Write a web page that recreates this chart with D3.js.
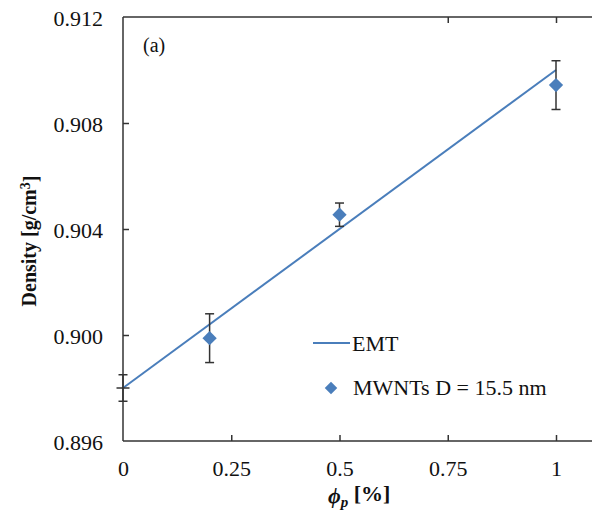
<!DOCTYPE html>
<html><head><meta charset="utf-8">
<script src="https://cdn.jsdelivr.net/npm/d3@7"></script>
<style>body{margin:0;background:#fff}svg{display:block}text{font-family:"Liberation Serif","Times New Roman",serif}</style>
</head><body>
<script>
const xTicks = [0, 0.25, 0.5, 0.75, 1];
const xTickLabels = ["0", "0.25", "0.5", "0.75", "1"];
const yTicks = [0.896, 0.900, 0.904, 0.908, 0.912];
const yTickLabels = ["0.896", "0.900", "0.904", "0.908", "0.912"];
const topTicks = [0.75, 1];
const emtX = [0, 1];
const emtY = [0.898, 0.910];
const ptX = [0.2, 0.5, 1.0];
const ptY = [0.89988, 0.90454, 0.90943];
const ptErr = [0.00092, 0.00044, 0.00092];
const refX = [0];
const refY = [0.898];
const refErr = [0.0005];

const W = 592, H = 518;
const svg = d3.select("body").append("svg").attr("width", W).attr("height", H);
const x = d3.scaleLinear().domain([0, 1]).range([123, 556]);
const y = d3.scaleLinear().domain([0.896, 0.912]).range([441, 17]);
const axisColor = "#333";
const blue = "#4a7ebb";

// axis frame lines
svg.append("line").attr("x1", x(0)).attr("x2", W).attr("y1", y(0.896)).attr("y2", y(0.896))
  .attr("stroke", axisColor).attr("stroke-width", 1.5);
svg.append("line").attr("x1", x(0)).attr("x2", W).attr("y1", y(0.912)).attr("y2", y(0.912))
  .attr("stroke", axisColor).attr("stroke-width", 1.5);
svg.append("line").attr("x1", x(0)).attr("x2", x(0)).attr("y1", y(0.896)).attr("y2", y(0.912))
  .attr("stroke", axisColor).attr("stroke-width", 1.5);

// x axis
const gx = svg.append("g").attr("transform", `translate(0,${y(0.896)})`)
  .call(d3.axisBottom(x).tickValues(xTicks).tickFormat((d, i) => xTickLabels[i]).tickSizeInner(-6).tickSizeOuter(0));
gx.select(".domain").remove();
gx.selectAll(".tick line").attr("stroke", axisColor).attr("stroke-width", 1.5);
gx.selectAll(".tick").filter(d => d === 0).select("line").remove();
gx.selectAll(".tick text").attr("y", 35).attr("dy", 0).attr("fill", "#111")
  .style("font-size", "22px").style("font-family", "Liberation Serif, serif");

// top ticks
const gt = svg.append("g").attr("transform", `translate(0,${y(0.912)})`)
  .call(d3.axisTop(x).tickValues(topTicks).tickFormat("").tickSizeInner(-6).tickSizeOuter(0));
gt.select(".domain").remove();
gt.selectAll(".tick line").attr("stroke", axisColor).attr("stroke-width", 1.5);

// y axis
const gy = svg.append("g").attr("transform", `translate(${x(0)},0)`)
  .call(d3.axisLeft(y).tickValues(yTicks).tickFormat((d, i) => yTickLabels[i]).tickSizeInner(-6).tickSizeOuter(0));
gy.select(".domain").remove();
gy.selectAll(".tick line").attr("stroke", axisColor).attr("stroke-width", 1.5);
gy.selectAll(".tick").filter(d => d === 0.896 || d === 0.912).select("line").remove();
gy.selectAll(".tick text").attr("x", -20).attr("dy", "0.38em").attr("fill", "#111")
  .style("font-size", "22px").style("font-family", "Liberation Serif, serif");

// EMT line
const line = d3.line().x(d => x(d[0])).y(d => y(d[1]));
svg.append("path").datum(emtX.map((v, i) => [v, emtY[i]])).attr("d", line)
  .attr("fill", "none").attr("stroke", blue).attr("stroke-width", 2);

// error bars
function errBar(xs, ys, es, cap) {
  xs.forEach((xv, i) => {
    const g = svg.append("g").attr("stroke", axisColor).attr("stroke-width", 1.5);
    const cx = x(xv), t = y(ys[i] + es[i]), b = y(ys[i] - es[i]);
    g.append("line").attr("x1", cx).attr("x2", cx).attr("y1", t).attr("y2", b);
    g.append("line").attr("x1", cx - cap).attr("x2", cx + cap).attr("y1", t).attr("y2", t);
    g.append("line").attr("x1", cx - cap).attr("x2", cx + cap).attr("y1", b).attr("y2", b);
  });
}
errBar(ptX, ptY, ptErr, 4.5);
errBar(refX, refY, refErr, 4.5);
// dash marker at reference point
refX.forEach((xv, i) => {
  svg.append("line").attr("x1", x(xv) - 6.5).attr("x2", x(xv) + 6.5).attr("y1", y(refY[i])).attr("y2", y(refY[i]))
    .attr("stroke", axisColor).attr("stroke-width", 1.5);
});

// diamonds
const diamond = d3.symbol().type(d3.symbolDiamond2).size(130);
svg.selectAll(".pt").data(ptX.map((v, i) => [v, ptY[i]])).join("path")
  .attr("transform", d => `translate(${x(d[0])},${y(d[1])})`)
  .attr("d", diamond).attr("fill", blue);

// legend
svg.append("line").attr("x1", 313).attr("x2", 350).attr("y1", 343).attr("y2", 343)
  .attr("stroke", blue).attr("stroke-width", 2);
svg.append("text").attr("x", 352).attr("y", 351).style("font-size", "22px").attr("fill", "#111").text("EMT");
svg.append("path").attr("transform", "translate(331,388)").attr("d", d3.symbol().type(d3.symbolDiamond2).size(100)).attr("fill", blue);
svg.append("text").attr("x", 353).attr("y", 395).style("font-size", "22px").attr("fill", "#111").text("MWNTs D = 15.5 nm");

// panel label
svg.append("text").attr("x", 143).attr("y", 52).style("font-size", "20px").attr("fill", "#111").text("(a)");

// y title
svg.append("text").attr("transform", "translate(36,241) rotate(-90)").attr("text-anchor", "middle")
  .style("font-size", "20px").style("font-weight", "bold").attr("fill", "#111")
  .call(t => {
    t.append("tspan").text("Density [g/cm");
    t.append("tspan").attr("dy", "-0.4em").style("font-size", "14px").text("3");
    t.append("tspan").attr("dy", "0.4em").text("]");
  });

// x title
svg.append("text").attr("x", 328).attr("y", 503).style("font-size", "22px").style("font-weight", "bold").attr("fill", "#111")
  .call(t => {
    t.append("tspan").style("font-style", "italic").text("ϕ");
    t.append("tspan").attr("dy", "0.25em").style("font-style", "italic").style("font-size", "15px").text("p");
    t.append("tspan").attr("dy", "-0.25em").text(" [%]");
  });
</script>
</body></html>
